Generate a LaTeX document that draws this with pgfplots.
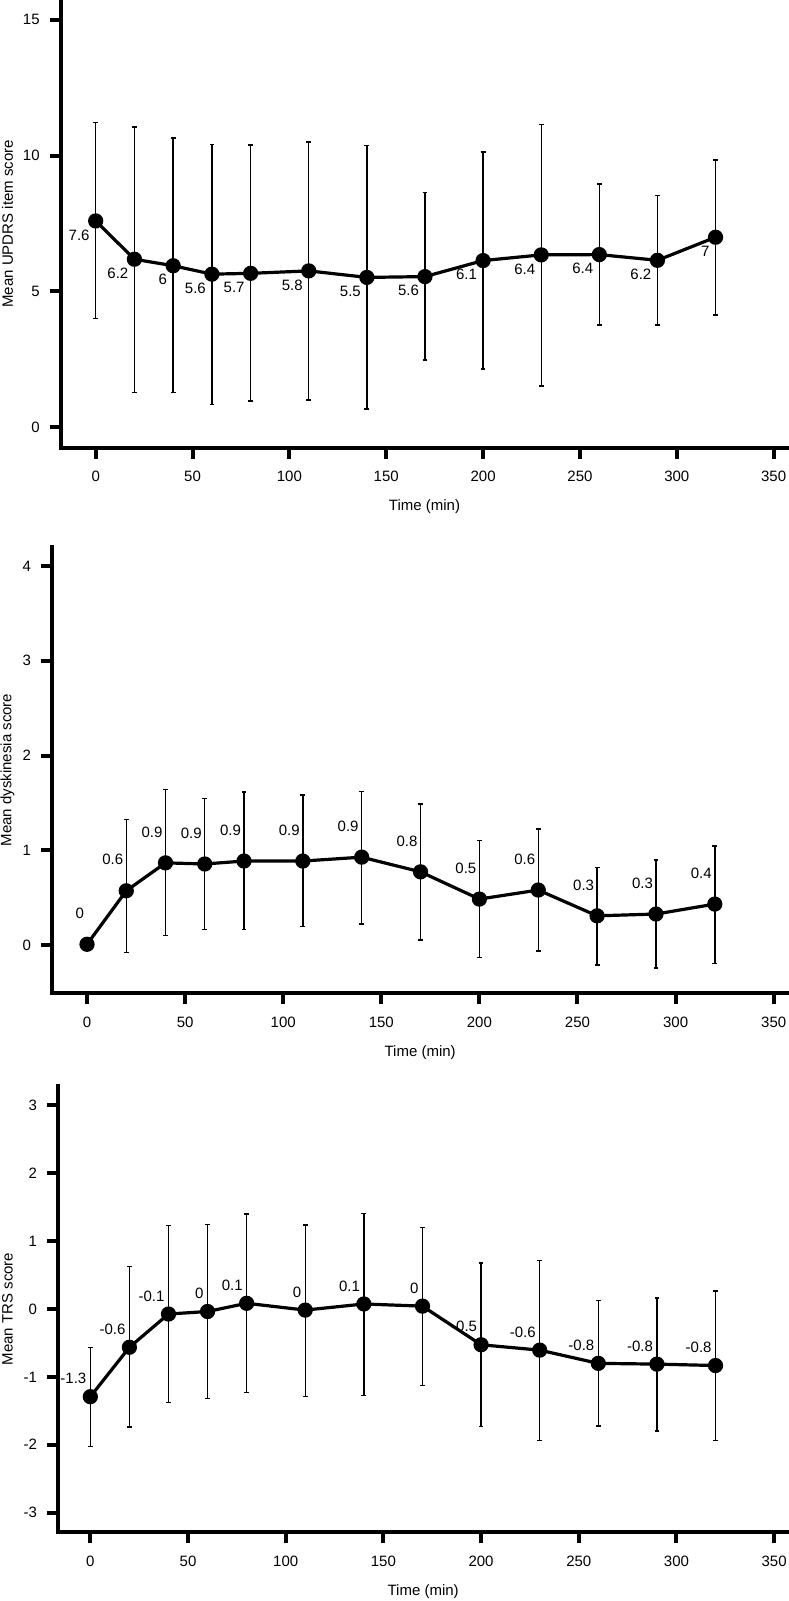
\documentclass[border=0pt]{standalone}
\usepackage{fontspec}
\setmainfont{Liberation Sans}
\usepackage{pgfplots}
\usepackage{pgfplotstable}
\pgfplotsset{compat=1.18}

\pgfplotstableread{
t y ep em lab
0 7.59 3.62 3.59 7.6
20 6.18 4.87 4.90 6.2
40 5.94 4.71 4.68 6
60 5.63 4.77 4.81 5.6
80 5.66 4.73 4.70 5.7
110 5.75 4.75 4.76 5.8
140 5.51 4.86 4.85 5.5
170 5.54 3.09 3.07 5.6
200 6.13 4.00 4.00 6.1
230 6.34 4.80 4.83 6.4
260 6.35 2.60 2.59 6.4
290 6.14 2.38 2.38 6.2
320 6.99 2.84 2.87 7
}\updrs

\pgfplotstableread{
t y ep em lab
0 0.01 0.03 0.03 0
20 0.574 0.752 0.650 0.6
40 0.869 0.774 0.767 0.9
60 0.857 0.688 0.691 0.9
80 0.888 0.729 0.722 0.9
110 0.888 0.695 0.692 0.9
140 0.929 0.691 0.706 0.9
170 0.774 0.714 0.717 0.8
200 0.487 0.616 0.619 0.5
230 0.582 0.642 0.642 0.6
260 0.310 0.510 0.518 0.3
290 0.329 0.570 0.571 0.3
320 0.434 0.612 0.627 0.4
}\dysk

\pgfplotstableread{
t y ep em lab
0 -1.292 0.728 0.738 -1.3
20 -0.564 1.186 1.176 -0.6
40 -0.074 1.308 1.302 -0.1
60 -0.037 1.281 1.281 0
80 0.084 1.318 1.312 0.1
110 -0.016 1.255 1.270 0
140 0.074 1.334 1.345 0.1
170 0.042 1.160 1.170 0
200 -0.527 1.202 1.208 -0.5
230 -0.606 1.323 1.329 -0.6
260 -0.801 0.922 0.923 -0.8
290 -0.812 0.975 0.986 -0.8
320 -0.833 1.097 1.107 -0.8
}\trs

\newcommand{\fs}{\fontsize{7.5}{9}\selectfont}

\pgfplotsset{
  panel/.style={
    scale only axis,
    anchor=south west,
    axis x line*=bottom,
    axis y line*=left,
    axis line style={-, line width=2pt, line cap=rect, black},
    tick align=outside,
    major tick length=5.5pt,
    tick style={black, line width=2pt},
    xtick={0,50,...,350},
    tick label style={font=\fs, inner sep=0pt},
    xticklabel style={anchor=north, yshift=-6.2pt},
    yticklabel style={anchor=east, xshift=-5pt},
    /pgf/number format/assume math mode=true,
    xlabel={Time (min)},
    label style={font=\fs},
    xlabel style={at={(axis description cs:0.5,0)}, anchor=center, yshift=-29.7pt},
    clip=false,
  },
  series/.style 2 args={
    black, line width=1.6pt, mark=*, mark size=3pt,
    mark options={solid, fill=black},
    nodes near coords,
    point meta=explicit symbolic,
    nodes near coords align={anchor=east},
    every node near coord/.append style={font=\fs, inner sep=0pt, black, xshift=#1, yshift=#2},
    error bars/.cd,
      y dir=both, y explicit,
      error bar style={line width=0.7pt, black},
      error mark options={rotate=90, mark size=1.2pt, line width=0.7pt, black},
    /pgfplots/.cd,
  },
}

\begin{document}
\begin{tikzpicture}
\useasboundingbox (0,0) rectangle (394pt,800.5pt);

% Panel 1
\begin{axis}[panel,
  at={(30.5pt,576.65pt)}, width=363.5pt, height=223.85pt,
  xmin=-17.9, xmax=357.4, ymin=-0.763, ymax=15.73,
  ytick={0,5,10,15},
  ylabel={Mean UPDRS item score},
  ylabel style={at={(axis description cs:-0.0736,0.5)}, anchor=center},
]
\addplot[series={-2.25pt}{-7pt}]
  table[x=t, y=y, y error plus=ep, y error minus=em, meta=lab] {\updrs};
\end{axis}

% Panel 2
\begin{axis}[panel,
  at={(26.15pt,303.85pt)}, width=367.85pt, height=223.3pt,
  xmin=-17.7, xmax=357.3, ymin=-0.507, ymax=4.204,
  ytick={0,1,2,3,4},
  ylabel={Mean dyskinesia score},
  ylabel style={at={(axis description cs:-0.0609,0.5)}, anchor=center},
]
\addplot[series={-0.75pt}{15.5pt}]
  table[x=t, y=y, y error plus=ep, y error minus=em, meta=lab] {\dysk};
\end{axis}

% Panel 3
\begin{axis}[panel,
  at={(29.15pt,34.35pt)}, width=364.85pt, height=223.3pt,
  xmin=-16.4, xmax=357.1, ymin=-3.29, ymax=3.29,
  ytick={-3,-2,-1,0,1,2,3},
  ylabel={Mean TRS score},
  ylabel style={at={(axis description cs:-0.0696,0.5)}, anchor=center},
]
\addplot[series={-1.2pt}{9pt}]
  table[x=t, y=y, y error plus=ep, y error minus=em, meta=lab] {\trs};
\end{axis}
\end{tikzpicture}
\end{document}
